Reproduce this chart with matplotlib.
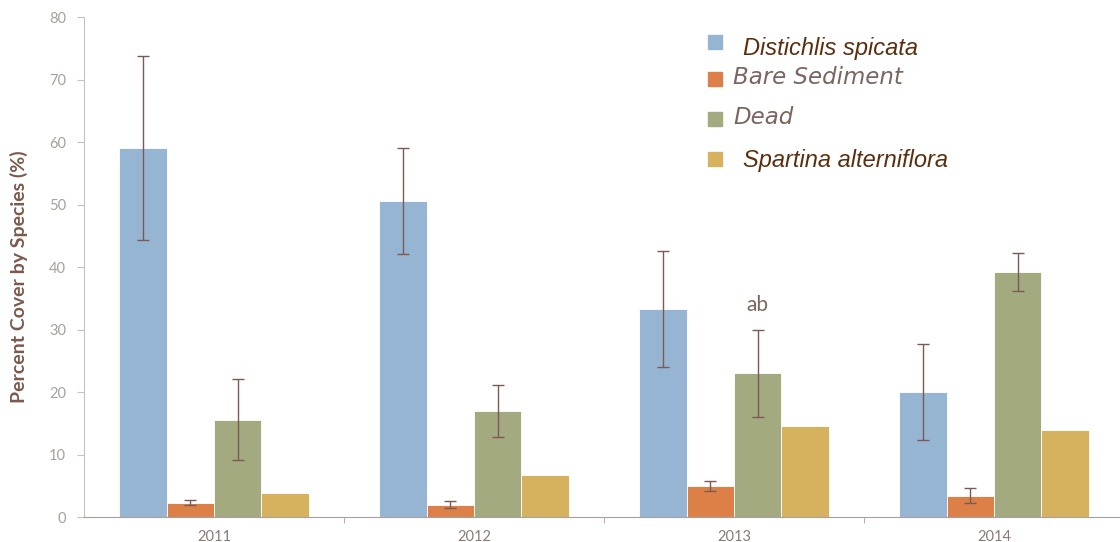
import numpy as np
import matplotlib.pyplot as plt
from matplotlib.patches import Rectangle

years = ['2011', '2012', '2013', '2014']
series = ['Distichlis spicata', 'Bare Sediment', 'Dead', 'Spartina alterniflora']

distichlis = [59.0, 50.6, 33.3, 20.0]
distichlis_err = [14.7, 8.5, 9.3, 7.7]
bare = [2.3, 2.0, 4.9, 3.4]
bare_err = [0.4, 0.5, 0.8, 1.2]
dead = [15.6, 17.0, 23.0, 39.2]
dead_err = [6.5, 4.2, 7.0, 3.0]
spartina = [3.8, 6.7, 14.6, 14.0]

colors = ['#95b5d3', '#dd8048', '#a3aa7f', '#d7b25e']
err_col = '#7a5a52'

fig = plt.figure(figsize=(11.2, 5.42), dpi=100)
ax = fig.add_axes([0.075, 0.0461, 0.9286, 0.9225])

x = np.arange(len(years))
w = 0.182
vals = [distichlis, bare, dead, spartina]
errs = [distichlis_err, bare_err, dead_err, None]
for i, (v, e) in enumerate(zip(vals, errs)):
    pos = x + (i - 1.5) * w
    ax.bar(pos, v, w, color=colors[i], edgecolor='white', linewidth=0.6, zorder=2)
    if e is not None:
        ax.errorbar(pos, v, yerr=e, fmt='none', ecolor=err_col, elinewidth=1,
                    capsize=4.5, capthick=1, zorder=3)

ax.text(x[2] + 0.5 * w, 34, 'ab', ha='center', va='center', fontsize=15,
        color='#7a6560', family='Lato')

ax.set_xlim(-0.5, 3.5)
ax.set_ylim(0, 80)
ax.set_yticks(range(0, 81, 10))
ax.set_xticks(x)
ax.set_xticklabels(years)
ax.set_xticks([0.5, 1.5, 2.5], minor=True)
ax.tick_params(axis='x', which='major', length=0, pad=9, labelsize=10.5, labelcolor='#8a7a75')
ax.tick_params(axis='x', which='minor', length=4, color='#a8a0a0', direction='out')
ax.tick_params(axis='y', length=5, color='#c8c0bc', labelsize=10.5, labelcolor='#a8a09c', pad=8)
for lab in ax.get_xticklabels() + ax.get_yticklabels():
    lab.set_family('Lato')

for s in ['top', 'right']:
    ax.spines[s].set_visible(False)
ax.spines['left'].set_color('#c8c0bc')
ax.spines['bottom'].set_color('#a8a0a0')

ax.set_ylabel('Percent Cover by Species (%)', fontsize=14, fontweight='bold',
              color='#7a5a4d', family='Lato')
ax.yaxis.set_label_coords(-0.054, 0.48)

# legend drawn by hand to match the spacing of the original
W, H = 1120, 542
sq = [(708, 35), (708, 72), (708, 112), (708, 152)]
txt = [(743, 48), (733, 78), (733, 118), (743, 161)]
styles = [dict(family='Liberation Sans', color='#5a2f10', fontsize=17),
          dict(family='DejaVu Sans', color='#7a6560', fontsize=16.5),
          dict(family='DejaVu Sans', color='#7a6560', fontsize=16.5),
          dict(family='Liberation Sans', color='#5a2f10', fontsize=17)]
for i, name in enumerate(series):
    sx, sy = sq[i]
    fig.add_artist(Rectangle((sx / W, 1 - (sy + 14) / H), 14 / W, 14 / H,
                             transform=fig.transFigure, color=colors[i]))
    tx, ty = txt[i]
    fig.text(tx / W, 1 - ty / H, name, ha='left', va='center', style='italic', **styles[i])

fig.savefig('out.png', dpi=100)
